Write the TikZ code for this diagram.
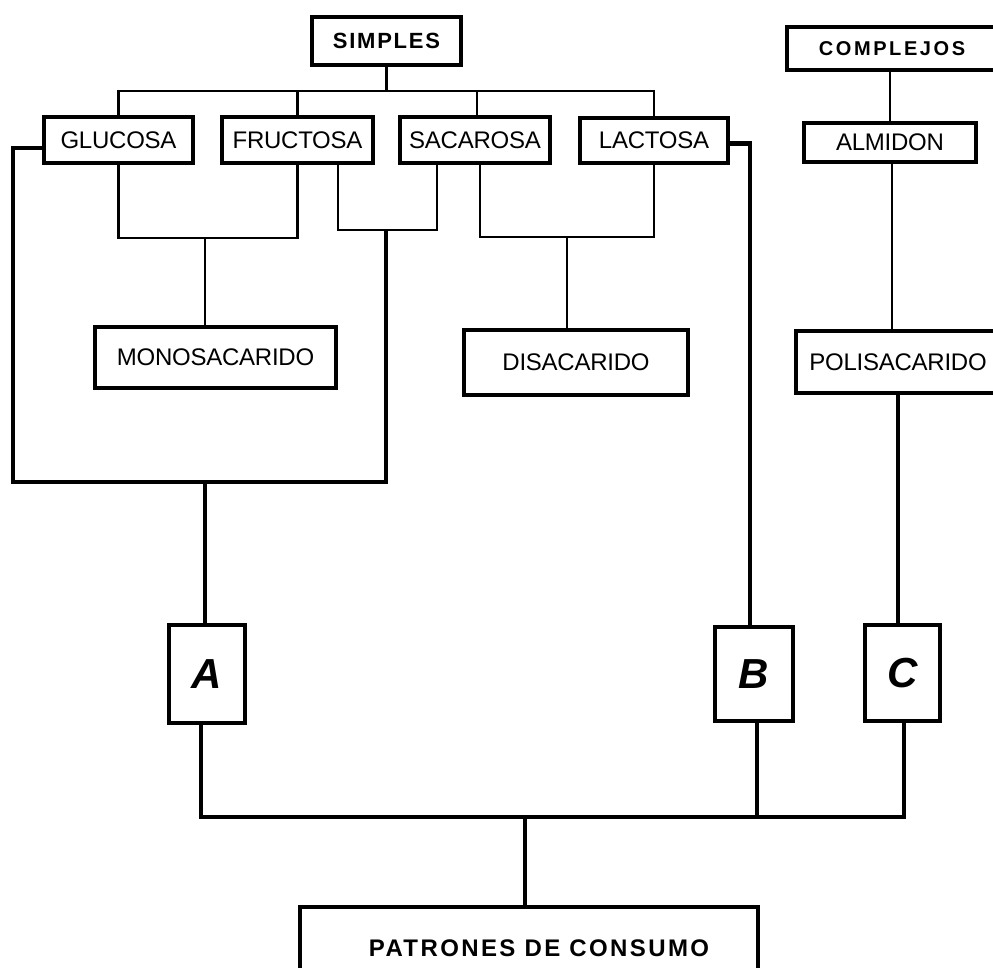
\documentclass[tikz,border=0pt]{standalone}
\usepackage{fontspec}
\setmainfont{Liberation Sans}
\begin{document}
\begin{tikzpicture}[x=1pt,y=-1pt,
  box/.style={draw, line width=4pt, rectangle, inner sep=0pt, font=\fontsize{24}{26}\selectfont\addfontfeatures{LetterSpace=-1}},
  bbox/.style={draw, line width=4.5pt, rectangle, inner sep=0pt},
  letterbox/.style={draw, line width=4pt, rectangle, inner sep=0pt, font=\fontsize{42}{44}\selectfont\bfseries\itshape},
  conn/.style={line width=2.5pt},
  heavy/.style={line width=4.5pt},
  line join=miter]
\path[use as bounding box, clip] (0,0) rectangle (993,968);
\fill[white] (0,0) rectangle (993,968);

% nodes
\node[bbox, minimum width=149, minimum height=48, font=\fontsize{22}{24}\selectfont\bfseries\addfontfeatures{LetterSpace=8}] (simp) at (386.5,41) {SIMPLES};
\node[bbox, minimum width=210, minimum height=43, font=\fontsize{20}{22}\selectfont\bfseries\addfontfeatures{LetterSpace=13}] (comp) at (892,48.5) {COMPLEJOS};
\node[box, minimum width=149, minimum height=46] (glu) at (118.5,140) {GLUCOSA};
\node[box, minimum width=151, minimum height=46] (fru) at (297.5,140) {FRUCTOSA};
\node[box, minimum width=150, minimum height=46] (sac) at (475,140) {SACAROSA};
\node[box, minimum width=148, minimum height=45] (lac) at (654,140.5) {LACTOSA};
\node[box, minimum width=172, minimum height=39] (alm) at (890,142.5) {ALMIDON};
\node[box, minimum width=241, minimum height=61] (mono) at (215.5,357.5) {MONOSACARIDO};
\node[box, minimum width=224, minimum height=65] (disa) at (576,362.5) {DISACARIDO\hspace{22pt}};
\node[box, minimum width=204, minimum height=62] (poli) at (898,362) {POLISACARIDO\hspace{18pt}};
\node[letterbox, minimum width=76, minimum height=98] (A) at (207,674) {A};
\node[letterbox, minimum width=78, minimum height=94] (B) at (754,674) {B};
\node[letterbox, minimum width=75, minimum height=96] (C) at (902.5,673) {C};
\node[bbox, minimum width=458, minimum height=82, font=\fontsize{24}{26}\selectfont\bfseries\addfontfeatures{LetterSpace=10}] (pat) at (529,948) {\hspace{20pt}PATRONES DE CONSUMO};

% helper coordinates
\coordinate (bus) at (388,91);
\coordinate (gf) at (205,238);
\coordinate (fs1) at (338,230);
\coordinate (fs2) at (437,230);
\coordinate (sl) at (567,237);
\coordinate (lb) at (13,482);
\coordinate (rb) at (386,482);
\coordinate (fsb) at (386,230);
\coordinate (am) at (205,482);
\coordinate (busb) at (525,817);

% SIMPLES bus
\draw[conn] (simp.south) -- (simp.south |- bus);
\draw[conn] (glu.north) |- (lac.north |- bus) -- (lac.north);
\draw[conn] (fru.north) -- (fru.north |- bus);
\draw[conn] ([xshift=2pt]sac.north) -- ([xshift=2pt]sac.north |- bus);

% brackets
\draw[conn] (glu.south) |- (gf) -| (fru.south);
\draw[conn] (gf) -- (gf |- mono.north);
\draw[conn] (fs1 |- fru.south) -- (fs1) -- (fs2) -- (fs2 |- sac.south);
\draw[conn] ([xshift=5pt]sac.south) |- (sl) -| (lac.south);
\draw[conn] (sl) -- (sl |- disa.north);

% complejos
\draw[conn] (alm.north) -- (alm.north |- comp.south);
\draw[conn] ([xshift=2pt]alm.south) -- ([xshift=2pt]alm.south |- poli.north);

% heavy connectors
\draw[heavy] ([yshift=-8pt]glu.west) -| (lb) -- (rb) -- (fsb);
\draw[heavy] (am) -- (am |- A.north);
\draw[heavy] ([yshift=-3pt]lac.east) -| ([xshift=-4pt]B.north);
\draw[heavy] (poli.south) -- (poli.south |- C.north);
\draw[heavy] ([xshift=-6pt]A.south) |- (busb) -| ([xshift=1.5pt]C.south);
\draw[heavy] ([xshift=3pt]B.south) -- ([xshift=3pt]B.south |- busb);
\draw[heavy] (busb) -- (busb |- pat.north);
\end{tikzpicture}
\end{document}
